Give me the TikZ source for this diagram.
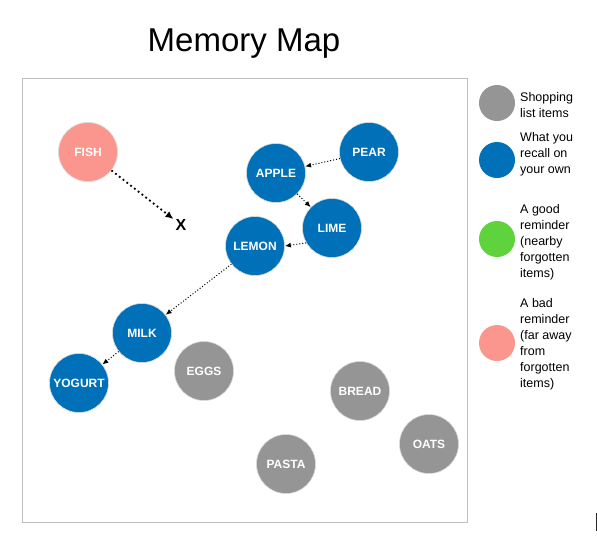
\documentclass[tikz,border=0pt]{standalone}
\usepackage{fontspec}
\setmainfont{Liberation Sans}
\usetikzlibrary{arrows.meta}
\definecolor{itemblue}{RGB}{0,112,184}
\definecolor{itemgray}{RGB}{149,149,149}
\definecolor{itempink}{RGB}{250,150,142}
\definecolor{itemgreen}{RGB}{94,211,60}
\definecolor{framegray}{RGB}{190,190,190}
\begin{document}
\begin{tikzpicture}[x=1pt,y=-1pt,
  item/.style={circle,minimum size=59pt,inner sep=0pt,draw=white!85!black,line width=0.6pt,
    text=white,font=\fontsize{12}{14}\selectfont\bfseries},
  recalled/.style={item,fill=itemblue},
  listed/.style={item,fill=itemgray},
  badrem/.style={item,fill=itempink},
  legdot/.style={circle,minimum size=36pt,inner sep=0pt},
  legtext/.style={anchor=west,align=left,inner sep=0pt,font=\fontsize{12.5}{16}\selectfont},
  link/.style={-{Latex[length=6pt,width=5pt]},dotted,line width=1pt,black},
  biglink/.style={-{Latex[length=8pt,width=7pt]},line width=1.8pt,black,dash pattern=on 1.8pt off 3pt}
]
\useasboundingbox (0,0) rectangle (597,536);
\node[font=\fontsize{33}{38}\selectfont] (title) at (244,44) {Memory Map};
\draw[framegray,line width=1pt] (22,78) rectangle (467,522);

\node[badrem] (fish) at (88,152) {FISH};
\node[font=\fontsize{16}{18}\selectfont\bfseries,inner sep=2pt] (x) at (181,225) {X};
\node[recalled] (pear) at (369,152) {PEAR};
\node[recalled] (apple) at (276,173) {APPLE};
\node[recalled] (lime) at (332,228) {LIME};
\node[recalled] (lemon) at (255,246) {LEMON};
\node[recalled] (milk) at (142,333) {MILK};
\node[recalled] (yogurt) at (79,383) {YOGURT};
\node[listed] (eggs) at (204,371) {EGGS};
\node[listed] (bread) at (360,391) {BREAD};
\node[listed] (oats) at (429,444) {OATS};
\node[listed] (pasta) at (286,464) {PASTA};

\draw[biglink] (fish) -- (x);
\draw[link] (pear) -- (apple);
\draw[link] (apple) -- (lime);
\draw[link] (lime.210) -- (lemon.east);
\draw[link] (lemon) -- (milk);
\draw[link] (milk) -- (yogurt);

\node[legdot,fill=itemgray] (lg1) at (497,103) {};
\node[legdot,fill=itemblue] (lg2) at (497,160) {};
\node[legdot,fill=itemgreen] (lg3) at (497,239) {};
\node[legdot,fill=itempink] (lg4) at (497,343) {};
\node[legtext] (lt1) at (520,105) {Shopping\\list items};
\node[legtext] (lt2) at (520,154) {What you\\recall on\\your own};
\node[legtext] (lt3) at (520,242) {A good\\reminder\\(nearby\\forgotten\\items)};
\node[legtext] (lt4) at (520,344) {A bad\\reminder\\(far away\\from\\forgotten\\items)};

\coordinate (cur1) at (596,513);
\coordinate (cur2) at (596,531);
\draw[black!85,line width=1pt] (cur1) -- (cur2);
\end{tikzpicture}
\end{document}
